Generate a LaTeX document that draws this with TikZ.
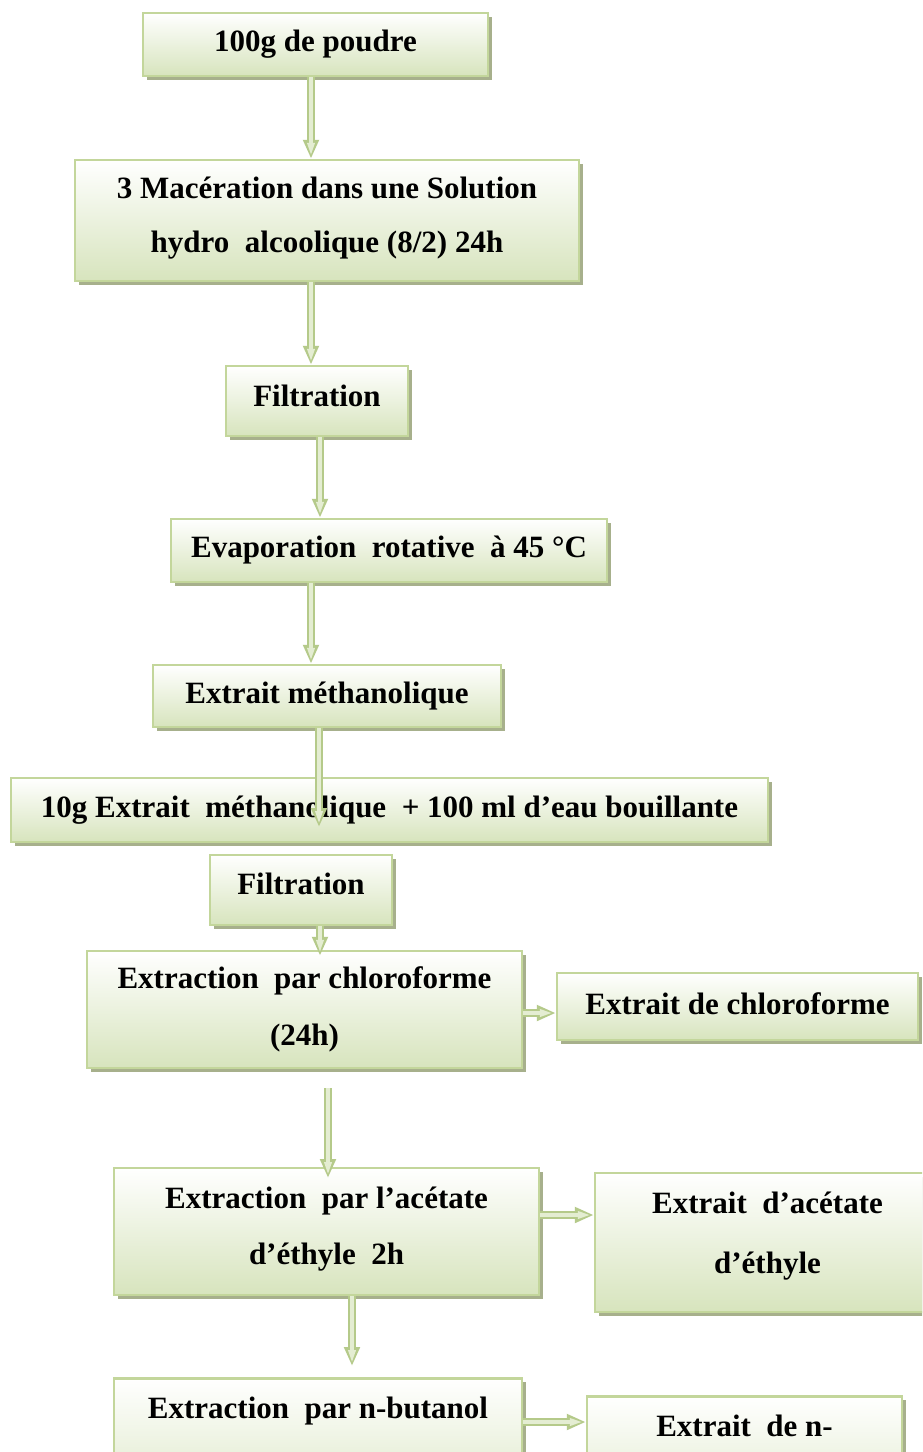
\documentclass[tikz,border=0pt]{standalone}
\usepackage{fontspec}
\setmainfont{Liberation Serif}
\usetikzlibrary{arrows.meta,shadows}
\definecolor{boxedge}{HTML}{C3D69B}
\definecolor{boxbottom}{HTML}{D7E4BD}
\definecolor{shadowc}{HTML}{A7B08C}
\definecolor{arrowedge}{HTML}{B5CA8A}
\definecolor{arrowfill}{HTML}{E4EDD2}
\tikzset{
  box/.style={draw=boxedge, line width=2.5pt, top color=white, bottom color=boxbottom,
    drop shadow={shadow xshift=4pt, shadow yshift=-4pt, fill=shadowc, opacity=1},
    align=center, inner sep=0pt,
    font=\bfseries\fontsize{31pt}{56pt}\selectfont},
  flow/.style={draw=arrowedge, line width=8pt, -{Triangle[length=19pt,width=15pt]},
    postaction={draw=arrowfill, line width=3.5pt, -{Triangle[length=13pt,width=7pt]}, shorten >=3pt}}
}
\begin{document}
\begin{tikzpicture}[x=1pt,y=-1pt]
\clip (0,0) rectangle (922,1452);
\fill[white] (0,0) rectangle (922,1452);
% boxes
\node[box, minimum width=345pt, minimum height=63pt] (b1) at (315.5,44.5) {100g de poudre\rule[-2pt]{0pt}{0pt}};
\node[box, minimum width=504pt, minimum height=121pt] (b2) at (327,220.5) {3 Macération dans une Solution\\[-2pt]hydro \ alcoolique (8/2) 24h\rule[-12pt]{0pt}{0pt}};
\node[box, minimum width=182pt, minimum height=70pt] (b3) at (317,401) {Filtration\rule[-10pt]{0pt}{0pt}};
\node[box, minimum width=436pt, minimum height=63pt] (b4) at (389,550.5) {Evaporation \ rotative \ à 45 °C\rule[-4pt]{0pt}{0pt}};
\node[box, minimum width=348pt, minimum height=62pt] (b5) at (327,696) {Extrait méthanolique};
\node[box, minimum width=757pt, minimum height=64pt] (b6) at (389.5,810) {10g Extrait \ méthanolique \ + 100 ml d’eau bouillante};
\node[box, minimum width=182pt, minimum height=70pt] (b7) at (301,890) {Filtration\rule[-12pt]{0pt}{0pt}};
\node[box, minimum width=435pt, minimum height=117pt] (b8) at (304.5,1009.5) {Extraction \ par chloroforme\\[1pt](24h)};
\node[box, minimum width=361pt, minimum height=67pt] (b9) at (737.5,1006.5) {Extrait de chloroforme\rule[-6pt]{0pt}{0pt}};
\node[box, minimum width=425pt, minimum height=127pt] (b10) at (326.5,1231.5) {Extraction \ par l’acétate\\d’éthyle \ 2h\rule[-12pt]{0pt}{0pt}};
\node[box, minimum width=345pt, minimum height=139pt] (b11) at (767.5,1242.5) {Extrait \ d’acétate\\[4pt]d’éthyle\rule[-20pt]{0pt}{0pt}};
\node[box, minimum width=408pt, anchor=north, inner ysep=18pt, text height=22pt, text depth=90pt] (b12) at (318,1377) {Extraction \ par n-butanol};
\node[box, minimum width=315pt, anchor=north, inner ysep=18pt, text height=22pt, text depth=90pt] (b13) at (744.5,1395) {Extrait \ de n-};
% helper coordinates
\coordinate (x1) at (311,0);
\coordinate (x3) at (320,0);
\coordinate (x5) at (319,0);
\coordinate (e5) at (319,827);
\coordinate (s8) at (328,1088);
\coordinate (e8) at (328,1178);
\coordinate (x10) at (352,0);
\coordinate (e10) at (352,1366);
\coordinate (y8) at (0,1013);
\coordinate (y10) at (0,1215);
\coordinate (y12) at (0,1422);
% arrows
\draw[flow] (b1.south -| x1) -- (b2.north -| x1);
\draw[flow] (b2.south -| x1) -- (b3.north -| x1);
\draw[flow] (b3.south -| x3) -- (b4.north -| x3);
\draw[flow] (b4.south -| x1) -- (b5.north -| x1);
\draw[flow] (b5.south -| x5) -- (e5);
\draw[flow] (b7.south -| x3) -- ([yshift=-6pt]b8.north -| x3);
\draw[flow] (s8) -- (e8);
\draw[flow] (b10.south -| x10) -- (e10);
\draw[flow] (b8.east |- y8) -- (b9.west |- y8);
\draw[flow] (b10.east |- y10) -- (b11.west |- y10);
\draw[flow] (b12.east |- y12) -- (b13.west |- y12);
\end{tikzpicture}
\end{document}
